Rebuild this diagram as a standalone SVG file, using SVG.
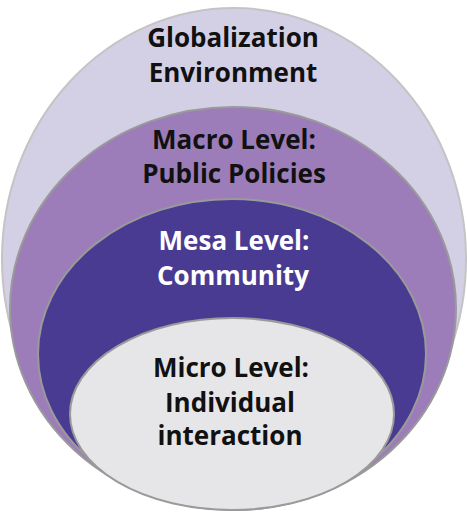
<svg xmlns="http://www.w3.org/2000/svg" width="467" height="513" viewBox="0 0 467 513">
<style>
  .lbl { font-family: "Open Sans", "Liberation Sans", sans-serif; font-weight: 700; font-size: 26px; text-anchor: middle; }
  .dark { fill: #111111; }
  .light { fill: #ffffff; }
  .ring { stroke: #9a9a9a; stroke-width: 2; }
</style>
<rect width="467" height="513" fill="#ffffff"/>
<g id="globalization">
  <ellipse cx="234" cy="259" rx="232" ry="251" fill="#d3d0e6" stroke="#c4c4c4" stroke-width="2"/>
  <text class="lbl dark" x="233" y="47">Globalization</text>
  <text class="lbl dark" x="233" y="82">Environment</text>
</g>
<g id="macro">
  <ellipse class="ring" cx="233" cy="308.5" rx="223" ry="201.5" fill="#9c7db9"/>
  <text class="lbl dark" x="234" y="149">Macro Level:</text>
  <text class="lbl dark" x="234" y="183">Public Policies</text>
</g>
<g id="mesa">
  <ellipse class="ring" cx="232" cy="354" rx="194" ry="155" fill="#4a3b92"/>
  <text class="lbl light" x="234" y="250">Mesa Level:</text>
  <text class="lbl light" x="233" y="285">Community</text>
</g>
<g id="micro">
  <ellipse class="ring" cx="232" cy="414" rx="162" ry="96" fill="#e6e6e8"/>
  <text class="lbl dark" x="231" y="377">Micro Level:</text>
  <text class="lbl dark" x="230" y="412">Individual</text>
  <text class="lbl dark" x="230" y="445">interaction</text>
</g>
<g id="connectors"/>
</svg>
